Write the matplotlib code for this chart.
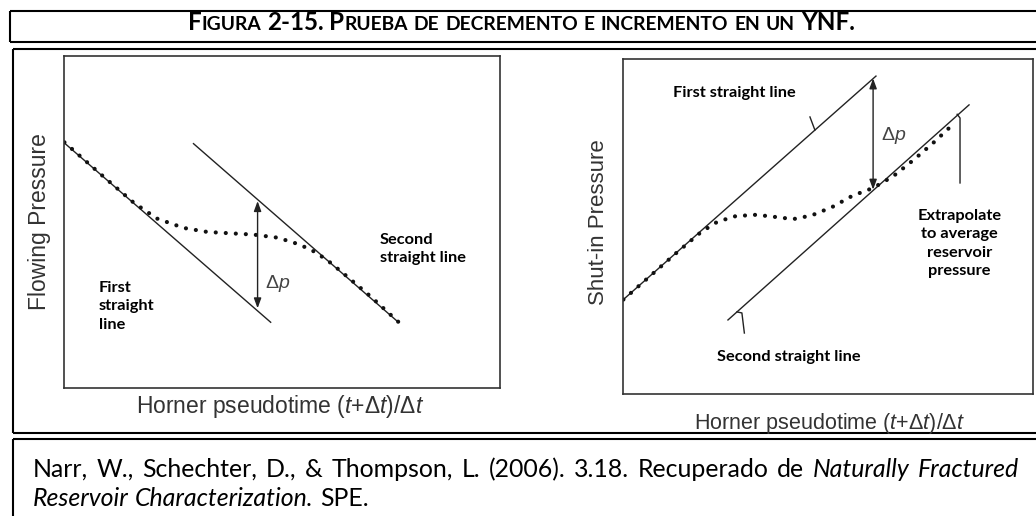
import re
import matplotlib
matplotlib.use('Agg')
import matplotlib.pyplot as plt
from matplotlib.patches import Rectangle

plt.rcParams['mathtext.fontset'] = 'custom'
plt.rcParams['mathtext.rm'] = 'Liberation Sans'
plt.rcParams['mathtext.it'] = 'Liberation Sans:italic'

# ── schematic data (arbitrary 0-100 units inside each panel) ─────────────────
# drawdown panel
DD_FIRST_X  = [0.0, 47.4]
DD_FIRST_Y  = [73.9, 19.8]
DD_SECOND_X = [29.7, 76.7]
DD_SECOND_Y = [73.6, 19.8]
DD_CURVE_X  = [0.1, 8.5, 16.1, 21.4, 27.5, 32.9, 38.2, 43.5, 48.9, 52.7,
               56.5, 60.3, 64.1, 70.3, 76.7]
DD_CURVE_Y  = [74.0, 64.3, 55.7, 51.0, 48.2, 47.0, 46.6, 46.2, 45.3, 43.8,
               41.8, 38.6, 34.5, 27.6, 19.9]
DD_DP_X, DD_DP_LO, DD_DP_HI = 44.4, 24.0, 56.3

# buildup panel
BU_FIRST_X  = [0.0, 61.7]
BU_FIRST_Y  = [28.1, 94.9]
BU_SECOND_X = [25.6, 84.4]
BU_SECOND_Y = [22.1, 86.3]
BU_CURVE_X  = [0.1, 6.6, 13.1, 19.0, 23.0, 27.5, 32.5, 37.5, 41.5, 46.0,
               51.0, 56.0, 61.0, 65.9, 70.8, 75.7, 80.5]
BU_CURVE_Y  = [28.2, 35.2, 42.2, 48.3, 51.4, 53.1, 53.5, 52.8, 52.2, 53.3,
               55.8, 59.2, 61.5, 65.0, 69.8, 75.0, 80.5]
BU_DP_X, BU_DP_LO, BU_DP_HI = 61.0, 61.0, 94.2
BU_TICK1_X, BU_TICK1_Y = [46.8, 45.6], [78.8, 82.7]
BU_TICK2_X, BU_TICK2_Y = [27.8, 29.0, 29.6], [24.5, 24.2, 18.2]
BU_TICK3_X, BU_TICK3_Y = [81.5, 82.2, 82.2], [83.5, 82.4, 63.0]

TITLE = 'Figura 2-15. Prueba de decremento e incremento en un YNF.'
CITE_LINE1 = [('Narr,', 'normal'), ('W.,', 'normal'), ('Schechter,', 'normal'),
              ('D.,', 'normal'), ('&', 'normal'), ('Thompson,', 'normal'),
              ('L.', 'normal'), ('(2006).', 'normal'), ('3.18.', 'normal'),
              ('Recuperado', 'normal'), ('de', 'normal'),
              ('Naturally', 'italic'), ('Fractured', 'italic')]
CITE_LINE2 = [('Reservoir', 'italic'), ('Characterization.', 'italic'),
              ('SPE.', 'normal')]

W, H = 1036, 516
INK = '#222222'
BODY_FONT = 'Lato'
PLOT_FONT = 'Liberation Sans'

fig = plt.figure(figsize=(W / 100, H / 100), dpi=100)
page = fig.add_axes([0, 0, 1, 1])
page.set_xlim(0, W)
page.set_ylim(H, 0)
page.axis('off')
renderer = fig.canvas.get_renderer()


def run_width(s, size, **kw):
    a = page.text(0, 0, '|' + s + '|', fontsize=size, **kw)
    b = page.text(0, 0, '||', fontsize=size, **kw)
    w = a.get_window_extent(renderer).width - b.get_window_extent(renderer).width
    a.remove()
    b.remove()
    return w


# ── frames ───────────────────────────────────────────────────────────────────
frame_kw = dict(color='black', lw=1.5, solid_capstyle='butt')
page.plot([10, W], [11, 11], **frame_kw)
page.plot([10, 10], [11, 42], **frame_kw)
page.plot([10, W], [42, 42], **frame_kw)
page.plot([13, W], [48.5, 48.5], **frame_kw)
page.plot([13, 13], [48.5, 433], **frame_kw)
page.plot([13, W], [433, 433], **frame_kw)
page.plot([13, W], [439, 439], **frame_kw)
page.plot([13, 13], [439, H], **frame_kw)

# ── title in small caps ──────────────────────────────────────────────────────
runs = []
for ch in TITLE:
    small = ch.islower()
    if runs and runs[-1][1] == small:
        runs[-1][0] += ch.upper()
    else:
        runs.append([ch.upper(), small])
title_kw = dict(family=BODY_FONT, fontweight='bold')
SMALL = 0.8
base = 12
nat = sum(run_width(s, base * (SMALL if sm else 1), **title_kw) for s, sm in runs)
base = base * 671 / nat
x = 523 - 671 / 2
for s, sm in runs:
    size = base * (SMALL if sm else 1)
    for part in re.split(r'( +)', s):
        if not part:
            continue
        if part.strip():
            page.text(x, 30, part, fontsize=size, va='baseline', ha='left',
                      color='black', **title_kw)
        x += run_width(part, size, **title_kw)

# ── citation (first line justified) ──────────────────────────────────────────
cite_size = 16
nat = sum(run_width(s, cite_size, family=BODY_FONT, style=st) for s, st in CITE_LINE1)
nat += run_width(' ', cite_size, family=BODY_FONT) * (len(CITE_LINE1) - 1)
cite_size = cite_size * 965 / nat
widths = [run_width(s, cite_size, family=BODY_FONT, style=st) for s, st in CITE_LINE1]
gap = (1019 - 33 - sum(widths)) / (len(CITE_LINE1) - 1)
x = 33
for (s, st), w in zip(CITE_LINE1, widths):
    page.text(x, 477, s, fontsize=cite_size, family=BODY_FONT, style=st,
              va='baseline', ha='left', color='black')
    x += w + gap
space = run_width(' ', cite_size, family=BODY_FONT)
x = 33
for s, st in CITE_LINE2:
    page.text(x, 506, s, fontsize=cite_size, family=BODY_FONT, style=st,
              va='baseline', ha='left', color='black')
    x += run_width(s, cite_size, family=BODY_FONT, style=st) + space


# ── panels ───────────────────────────────────────────────────────────────────
def panel(left, top, right, bottom):
    ax = fig.add_axes([left / W, 1 - bottom / H, (right - left) / W, (bottom - top) / H])
    ax.set_xlim(0, 100)
    ax.set_ylim(0, 100)
    ax.set_xticks([])
    ax.set_yticks([])
    for sp in ax.spines.values():
        sp.set_linewidth(1.2)
        sp.set_color('#333333')
    return ax


line_kw = dict(color=INK, lw=1.0)
dot_kw = dict(color='#111111', lw=3.0, linestyle=(0, (0.01, 2.4)),
              dash_capstyle='round')
arrow_kw = dict(arrowstyle='<|-|>,head_length=0.6,head_width=0.22',
                color=INK, lw=1.0, shrinkA=0, shrinkB=0)
note_kw = dict(family=BODY_FONT, fontweight='bold', fontsize=11.8,
               color='black', linespacing=1.4)
dp_kw = dict(family=PLOT_FONT, fontsize=14, color='#444444')

ax_dd = panel(64, 56, 500, 388)
ax_dd.plot(DD_FIRST_X, DD_FIRST_Y, **line_kw)
ax_dd.plot(DD_SECOND_X, DD_SECOND_Y, **line_kw)
ax_dd.plot(DD_CURVE_X, DD_CURVE_Y, **dot_kw)
ax_dd.annotate('', xy=(DD_DP_X, DD_DP_HI), xytext=(DD_DP_X, DD_DP_LO),
               arrowprops=arrow_kw)
ax_dd.text(46.0, 31.5, 'Δ$p$', va='center', ha='left', **dp_kw)
ax_dd.text(72.5, 41.9, 'Second\nstraight line', va='center', ha='left', **note_kw)
ax_dd.text(8.0, 24.6, 'First\nstraight\nline', va='center', ha='left', **note_kw)

ax_bu = panel(623, 59, 1033, 394)
ax_bu.plot(BU_FIRST_X, BU_FIRST_Y, **line_kw)
ax_bu.plot(BU_SECOND_X, BU_SECOND_Y, **line_kw)
ax_bu.plot(BU_CURVE_X, BU_CURVE_Y, **dot_kw)
ax_bu.plot(BU_TICK1_X, BU_TICK1_Y, **line_kw)
ax_bu.plot(BU_TICK2_X, BU_TICK2_Y, **line_kw)
ax_bu.plot(BU_TICK3_X, BU_TICK3_Y, **line_kw)
ax_bu.annotate('', xy=(BU_DP_X, BU_DP_HI), xytext=(BU_DP_X, BU_DP_LO),
               arrowprops=arrow_kw)
ax_bu.text(63.0, 77.3, 'Δ$p$', va='center', ha='left', **dp_kw)
ax_bu.text(27.2, 89.9, 'First straight line', va='center', ha='center', **note_kw)
ax_bu.text(82.0, 44.9, 'Extrapolate\nto average\nreservoir\npressure',
           va='center', ha='center', multialignment='center', **note_kw)
second = ax_bu.text(40.5, 10.9, 'Second straight line', va='center', ha='center',
                    **note_kw)
second.set_clip_path(Rectangle((0, 9.4), 100, 90, transform=ax_bu.transData))

# ── axis labels ──────────────────────────────────────────────────────────────
lab_kw = dict(family=PLOT_FONT, color='#333333', ha='center', va='center')
page.text(40, 222, 'Flowing Pressure', rotation=90, fontsize=16.5, **lab_kw)
page.text(598, 222, 'Shut-in Pressure', rotation=90, fontsize=16, **lab_kw)
page.text(280, 407, 'Horner pseudotime ($t$+Δ$t$)/Δ$t$', fontsize=16.5, **lab_kw)
page.text(830, 423, 'Horner pseudotime ($t$+Δ$t$)/Δ$t$', fontsize=15.5, **lab_kw)

fig.savefig('out.png', dpi=100)
